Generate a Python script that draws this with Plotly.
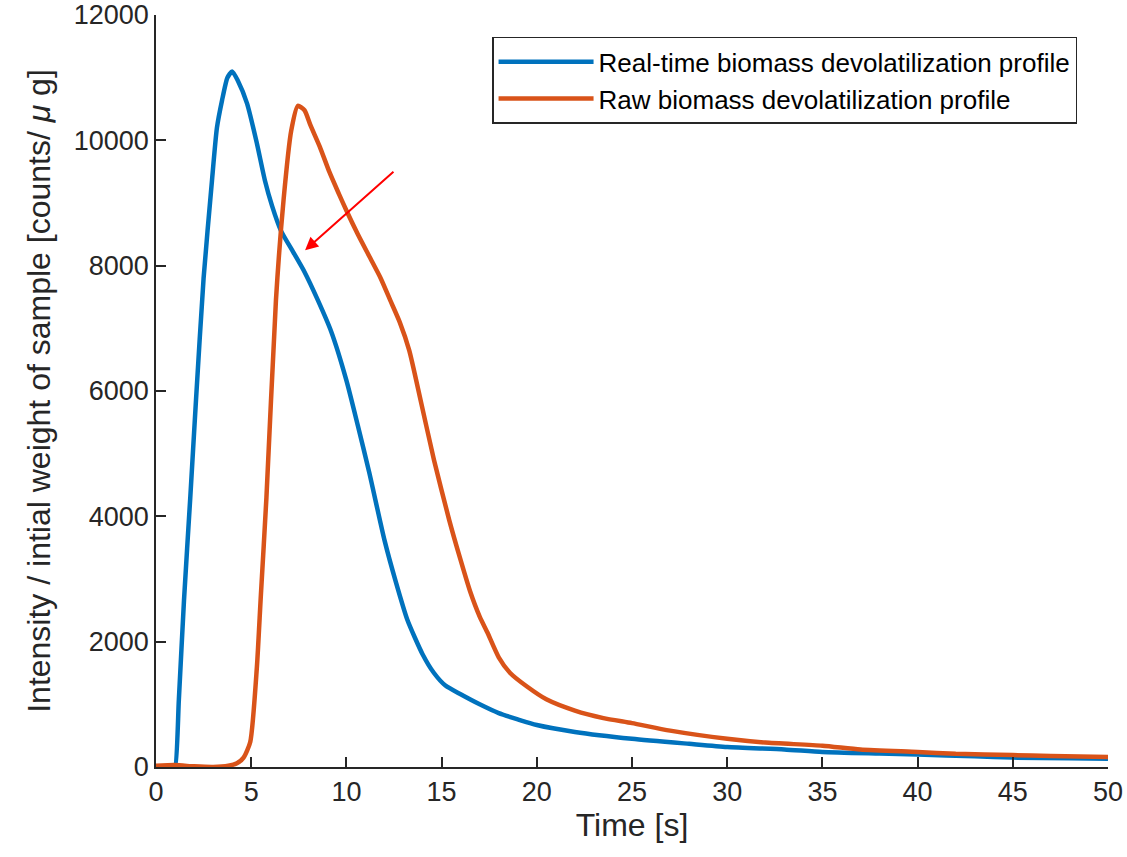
import plotly.graph_objects as go

# Real-time biomass devolatilization profile (blue)
t_real = [0, 0.5, 0.9, 1.0, 1.2, 1.47, 1.8, 2.1, 2.5, 2.94, 3.2, 3.47, 3.75, 4.0, 4.3, 4.78,
          5.3, 5.72, 6.1, 6.56, 7.2, 7.8, 8.5, 9.2, 10.0, 10.6, 11.2, 12.0, 12.6, 13.2, 14.0,
          14.6, 15.2, 16.0, 17.0, 18.0, 19.0, 20.0, 22.0, 25.0, 28.0, 30.0, 33.0, 35.0, 38.0,
          40.0, 43.0, 45.0, 48.0, 50.0]
y_real = [0, 0, 0, 0, 1070, 2660, 4300, 5850, 7800, 9360, 10200, 10640, 11000, 11100,
          10950, 10590, 9950, 9360, 8950, 8560, 8220, 7900, 7450, 6950, 6170, 5450, 4700,
          3620, 2950, 2350, 1800, 1500, 1300, 1160, 1000, 860, 760, 670, 560, 450, 370, 320,
          280, 240, 215, 200, 170, 150, 140, 130]

# Raw biomass devolatilization profile (orange)
t_raw = [0, 1.0, 2.0, 3.0, 3.8, 4.25, 4.6, 4.95, 5.3, 5.5, 5.8, 6.3, 6.7, 7.1, 7.45, 7.8,
         8.1, 8.6, 9.1, 9.6, 10.0, 10.6, 11.2, 11.8, 12.3, 12.8, 13.3, 13.9, 14.6, 15.4,
         16.0, 16.5, 17.0, 17.4, 18.0, 18.6, 19.5, 20.5, 22.0, 23.5, 25.0, 27.0, 30.0,
         32.0, 35.0, 37.0, 40.0, 42.0, 45.0, 47.0, 50.0]
y_raw = [20, 30, 10, 0, 20, 60, 150, 400, 1600, 2700, 4300, 7450, 9050, 10150, 10550,
         10480, 10250, 9900, 9500, 9150, 8880, 8500, 8150, 7800, 7450, 7100, 6650, 5850,
         4900, 3940, 3300, 2800, 2400, 2150, 1750, 1500, 1280, 1080, 900, 780, 700, 580,
         450, 390, 340, 280, 240, 210, 190, 175, 160]

x_ticks = list(range(0, 51, 5))
y_ticks = list(range(0, 12001, 2000))
y_tick_labels = [str(v) for v in y_ticks]

# Arrow (tail -> head) in data coordinates
arrow_tail = (12.55, 9520)
arrow_head = (7.83, 8245)

AX = "#262626"
FONT = "Liberation Sans, Arial, sans-serif"

fig = go.Figure()
fig.add_trace(go.Scatter(x=t_real, y=y_real, mode="lines", name="Real-time biomass devolatilization profile",
                         line=dict(color="#0072BD", width=4.5, shape="spline", smoothing=0.6)))
fig.add_trace(go.Scatter(x=t_raw, y=y_raw, mode="lines", name="Raw biomass devolatilization profile",
                         line=dict(color="#D95319", width=4.5, shape="spline", smoothing=0.6)))

fig.add_annotation(x=arrow_head[0], y=arrow_head[1], ax=arrow_tail[0], ay=arrow_tail[1],
                   xref="x", yref="y", axref="x", ayref="y", text="", showarrow=True,
                   arrowhead=2, arrowsize=1.3, arrowwidth=2, arrowcolor="#FF0000")

fig.update_layout(
    width=1127, height=857,
    margin=dict(l=156, r=19, t=15, b=90),
    paper_bgcolor="white", plot_bgcolor="white",
    font=dict(family=FONT, size=27, color=AX),
    showlegend=True,
    legend=dict(x=0.353, y=0.971, xanchor="left", yanchor="top",
                bgcolor="white", bordercolor=AX, borderwidth=1.5,
                font=dict(size=26, color="#000000"), tracegroupgap=0,
                itemwidth=95),
    xaxis=dict(range=[0, 50], tickvals=x_ticks, ticks="inside", ticklen=10, tickwidth=1.5,
               tickcolor=AX, showline=True, linecolor=AX, linewidth=1.5, showgrid=False,
               zeroline=False, automargin=False, ticklabeloverflow="allow",
               tickfont=dict(size=27, color=AX),
               title=dict(text="Time [s]", font=dict(size=32, color=AX), standoff=4)),
    yaxis=dict(range=[0, 12000], tickvals=y_ticks, ticktext=y_tick_labels, ticks="inside",
               ticklen=10, tickwidth=1.5,
               tickcolor=AX, showline=True, linecolor=AX, linewidth=1.5, showgrid=False,
               zeroline=False, automargin=False, ticklabeloverflow="allow",
               tickfont=dict(size=27, color=AX),
               title=dict(text="Intensity / intial weight of sample [counts/ <i>μ</i> g]",
                          font=dict(size=32, color=AX), standoff=14)),
)

fig.write_html("out.html", config={"displayModeBar": False},
               post_script="document.body.style.margin='0';")
